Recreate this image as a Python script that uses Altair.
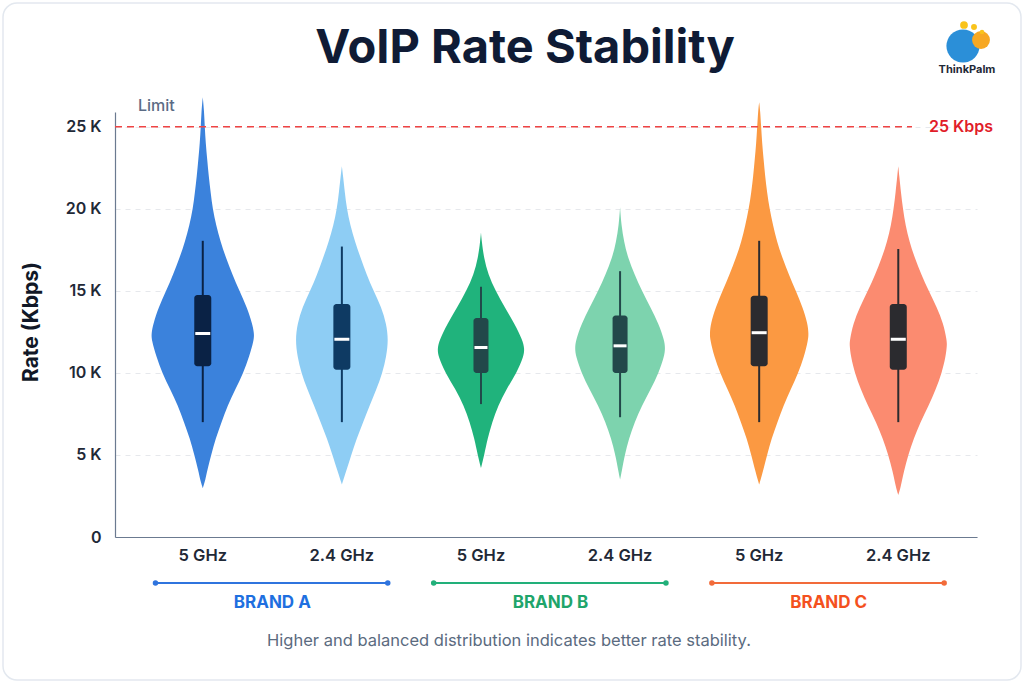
import altair as alt
import pandas as pd

# ---------------- data ----------------
GROUPS = ["A 5 GHz", "A 2.4 GHz", "B 5 GHz", "B 2.4 GHz", "C 5 GHz", "C 2.4 GHz"]
BANDS = ["5 GHz", "2.4 GHz", "5 GHz", "2.4 GHz", "5 GHz", "2.4 GHz"]
BRANDS = ["BRAND A", "BRAND B", "BRAND C"]

# violin outlines: rate (K) and relative density (half-width) at that rate
A5_RATE = [2.97, 3.5, 4, 5, 6, 7, 8, 9, 10, 11, 12, 12.4, 13, 14, 15, 16, 17, 18, 19, 20, 21, 22, 23, 24, 25, 26, 26.8]
A5_DENS = [0, 2.7, 4.3, 8.5, 13, 19, 25, 33, 41, 47, 51.7, 52, 50, 44.7, 37, 30, 23.5, 18, 13.5, 10, 8, 6, 4.5, 3, 2, 1.3, 0]

A24_RATE = [3.2, 4, 5, 6, 7, 8, 9, 10, 11, 12, 13, 14, 15, 16, 17, 18, 19, 20, 21, 22, 22.6]
A24_DENS = [0, 4.3, 9.5, 15, 21.5, 28, 35, 41, 45, 47, 45, 40, 32, 25, 19, 13.3, 8.5, 5, 3, 1.2, 0]

B5_RATE = [4.2, 5, 6, 7, 8, 9, 10, 11, 11.5, 12, 13, 14, 15, 16, 17, 18, 18.55]
B5_DENS = [0, 3.3, 6.7, 11.3, 17.3, 25.7, 36, 43.3, 44, 42, 34, 24, 14.7, 7.3, 3, 0.8, 0]

B24_RATE = [3.5, 4, 5, 6, 7, 8, 9, 10, 11, 11.5, 12, 13, 14, 15, 16, 17, 18, 19, 20.1]
B24_DENS = [0, 1.7, 4.7, 9, 14.7, 22, 31, 39, 44.7, 45.7, 44.7, 39, 30.7, 22, 14.7, 8, 4, 1.3, 0]

C5_RATE = [3.2, 3.5, 4, 5, 6, 7, 8, 9, 10, 11, 12, 12.4, 13, 14, 15, 16, 17, 18, 19, 20, 21, 22, 23, 24, 25, 26, 26.5]
C5_DENS = [0, 1.5, 3.8, 8, 12.5, 18.5, 24.5, 32, 39.5, 45.5, 49.5, 50, 49, 44, 37, 30, 23.5, 18, 14, 10.5, 8, 6, 4.5, 3, 2, 1, 0]

C24_RATE = [2.56, 3, 4, 5, 6, 7, 8, 9, 10, 11, 11.7, 12, 13, 14, 15, 16, 17, 18, 19, 20, 21, 22, 22.6]
C24_DENS = [0, 2.3, 5.7, 10, 15.7, 22.3, 30.7, 38, 44, 48, 49.3, 49, 45.7, 39, 30.7, 23.3, 16.7, 11.3, 7.3, 4.7, 2.7, 1, 0]

# box-plot statistics (K)
WHISK_LO = [7.0, 7.0, 8.1, 7.3, 7.0, 7.0]
Q1 = [10.4, 10.2, 10.0, 10.0, 10.4, 10.2]
MEDIAN = [12.4, 12.05, 11.55, 11.65, 12.45, 12.05]
Q3 = [14.75, 14.2, 13.35, 13.5, 14.7, 14.2]
WHISK_HI = [18.05, 17.7, 15.25, 16.2, 18.05, 17.55]

LIMIT = 25

# ---------------- styles ----------------
FILL = ["#3b82dc", "#8ecdf4", "#20b37c", "#7dd3ae", "#fb9942", "#fb8b70"]
BOXC = ["#0a2245", "#0e3a63", "#22484a", "#22484a", "#2b2b2f", "#2b2b2f"]
BOXW = [17, 17, 15, 15, 17, 17]
BRAND_COL = ["#2f74de", "#22b07a", "#f26b3a"]
BRAND_TXT = ["#1e6fe0", "#1fa56b", "#f4511e"]
FONT = "Inter"
DENS_SCALE = 1 / 140.7  # density units -> category spacing

profiles = [(A5_RATE, A5_DENS), (A24_RATE, A24_DENS), (B5_RATE, B5_DENS),
            (B24_RATE, B24_DENS), (C5_RATE, C5_DENS), (C24_RATE, C24_DENS)]
rows = []
for i, (rates, dens) in enumerate(profiles):
    for r, d in zip(rates, dens):
        rows.append({"group": GROUPS[i], "idx": i, "rate": r,
                     "lo": i - d * DENS_SCALE, "hi": i + d * DENS_SCALE})
violin_df = pd.DataFrame(rows)

box_df = pd.DataFrame({"group": GROUPS, "idx": list(range(6)), "band": BANDS,
                       "wlo": WHISK_LO, "q1": Q1, "med": MEDIAN, "q3": Q3, "whi": WHISK_HI,
                       "boxc": BOXC, "bw": BOXW, "mw": [w - 2 for w in BOXW]})

brand_df = pd.DataFrame({"brand": BRANDS, "start": [0, 2, 4], "end": [1, 3, 5],
                         "col": BRAND_COL, "tcol": BRAND_TXT})
brand_df["lo"] = brand_df["start"] - 0.34
brand_df["hi"] = brand_df["end"] + 0.33
brand_df["mid"] = (brand_df["start"] + brand_df["end"]) / 2

XS = alt.Scale(domain=[-0.595, 5.53], nice=False, zero=False)
YS = alt.Scale(domain=[0, 25.9], nice=False, zero=True)

violins = alt.Chart(violin_df).mark_area(orient="horizontal", interpolate="basis").encode(
    y=alt.Y("rate:Q", scale=YS, axis=alt.Axis(
        values=[0, 5, 10, 15, 20, 25],
        labelExpr="datum.value == 0 ? '0' : datum.value + ' K'",
        grid=True, gridDash=[5, 5], gridColor="#e6e8ec", gridWidth=1,
        ticks=False, labelPadding=14, labelFontSize=16, labelFontWeight=600,
        labelColor="#1f2937", labelFont=FONT, domainColor="#6b7a90", domainWidth=1.2,
        title=None)),
    x=alt.X("lo:Q", scale=XS, axis=alt.Axis(labels=False, ticks=False, grid=False, title=None,
                                           domainColor="#6b7a90", domainWidth=1.2)),
    x2="hi:Q",
    color=alt.Color("group:N", scale=alt.Scale(domain=GROUPS, range=FILL), legend=None),
    detail="group:N",
)

whiskers = alt.Chart(box_df).mark_rule(strokeWidth=2).encode(
    x=alt.X("idx:Q", scale=XS), y=alt.Y("wlo:Q", scale=YS), y2="whi:Q",
    color=alt.Color("boxc:N", scale=None))

boxes = alt.Chart(box_df).mark_bar(cornerRadius=3).encode(
    x=alt.X("idx:Q", scale=XS), y=alt.Y("q1:Q", scale=YS), y2="q3:Q",
    size=alt.Size("bw:Q", scale=None),
    color=alt.Color("boxc:N", scale=None))

medians = alt.Chart(box_df).mark_tick(orient="horizontal", thickness=3, color="#ffffff", opacity=1).encode(
    x=alt.X("idx:Q", scale=XS), y=alt.Y("med:Q", scale=YS),
    size=alt.Size("mw:Q", scale=None))

limit_rule = alt.Chart(pd.DataFrame({"lim": [LIMIT]})).mark_rule(
    color="#ef4444", strokeDash=[7, 5], strokeWidth=1.5).encode(
    y=alt.Y("lim:Q", scale=YS), x=alt.value(0), x2=alt.value(797))

limit_txt = alt.Chart(pd.DataFrame({"lim": [LIMIT]})).mark_text(
    text="25 Kbps", align="left", baseline="middle", fontSize=16, fontWeight=600,
    color="#e11d2a", font=FONT).encode(y=alt.Y("lim:Q", scale=YS), x=alt.value(814))

limit_lbl = alt.Chart(pd.DataFrame({"t": ["Limit"]})).mark_text(
    align="left", baseline="middle", fontSize=16, fontWeight=500, color="#5b6b85", font=FONT
).encode(text="t:N", x=alt.value(23), y=alt.value(-6))

xlabels = alt.Chart(box_df).mark_text(
    baseline="middle", fontSize=16.5, fontWeight=600, color="#1f2937", font=FONT).encode(
    x=alt.X("idx:Q", scale=XS), y=alt.value(444), text="band:N")

brand_lines = alt.Chart(brand_df).mark_rule(strokeWidth=2).encode(
    x=alt.X("lo:Q", scale=XS), x2="hi:Q", y=alt.value(471),
    color=alt.Color("col:N", scale=None))

brand_dots = alt.Chart(brand_df).transform_fold(["lo", "hi"], as_=["k", "v"]).mark_circle(
    size=30, opacity=1).encode(
    x=alt.X("v:Q", scale=XS), y=alt.value(471), color=alt.Color("col:N", scale=None))

brand_txt = alt.Chart(brand_df).mark_text(
    baseline="middle", fontSize=17, fontWeight=700, font=FONT).encode(
    x=alt.X("mid:Q", scale=XS), y=alt.value(491), text="brand:N",
    color=alt.Color("tcol:N", scale=None))

title = alt.Chart(pd.DataFrame({"t": ["VoIP Rate Stability"]})).mark_text(
    fontSize=47, fontWeight=700, color="#0f1b35", font=FONT, baseline="middle").encode(
    text="t:N", x=alt.value(410), y=alt.value(-63))

ytitle = alt.Chart(pd.DataFrame({"t": ["Rate (Kbps)"]})).mark_text(
    fontSize=21, fontWeight=700, color="#111827", font=FONT, angle=270, baseline="middle").encode(
    text="t:N", x=alt.value(-83), y=alt.value(210))

footer = alt.Chart(pd.DataFrame({"t": ["Higher and balanced distribution indicates better rate stability."]})).mark_text(
    fontSize=16.5, color="#5b6b80", font=FONT, baseline="middle").encode(
    text="t:N", x=alt.value(394), y=alt.value(529))

# logo (decorative)
logo_blue = alt.Chart(pd.DataFrame({"k": [1]})).mark_circle(size=1100, color="#2b8fd8", opacity=1).encode(
    x=alt.value(848), y=alt.value(-66))
logo_orange = alt.Chart(pd.DataFrame({"k": [1]})).mark_circle(size=320, color="#f7a823", opacity=1).encode(
    x=alt.value(866), y=alt.value(-72))
logo_dots = alt.Chart(pd.DataFrame({"dx": [849, 859, 867], "dy": [-87, -85, -80], "s": [60, 35, 20]})).mark_circle(
    color="#f9c31b", opacity=1).encode(x=alt.X("dx:Q", scale=None), y=alt.Y("dy:Q", scale=None),
                                       size=alt.Size("s:Q", scale=None))
logo_txt = alt.Chart(pd.DataFrame({"t": ["ThinkPalm"]})).mark_text(
    fontSize=11, fontWeight=700, color="#1f2937", font=FONT, baseline="middle").encode(
    text="t:N", x=alt.value(852), y=alt.value(-42))

card = alt.Chart(pd.DataFrame({"k": [1]})).mark_rect(
    fillOpacity=0, stroke="#e3e8ef", strokeWidth=1.5, cornerRadius=14).encode(
    x=alt.value(-112), x2=alt.value(906), y=alt.value(-109), y2=alt.value(568))

chart = alt.layer(
    card, violins, whiskers, boxes, medians, limit_rule, limit_txt, limit_lbl,
    xlabels, brand_lines, brand_dots, brand_txt, title, ytitle, footer,
    logo_blue, logo_orange, logo_dots, logo_txt,
).properties(
    width=862, height=425,
    autosize=alt.AutoSizeParams(type="none"),
    padding={"left": 115, "top": 112, "right": 47, "bottom": 146},
    background="#ffffff",
).configure_view(stroke=None)

chart.save("out.html", embed_options={"renderer": "svg", "actions": False})
